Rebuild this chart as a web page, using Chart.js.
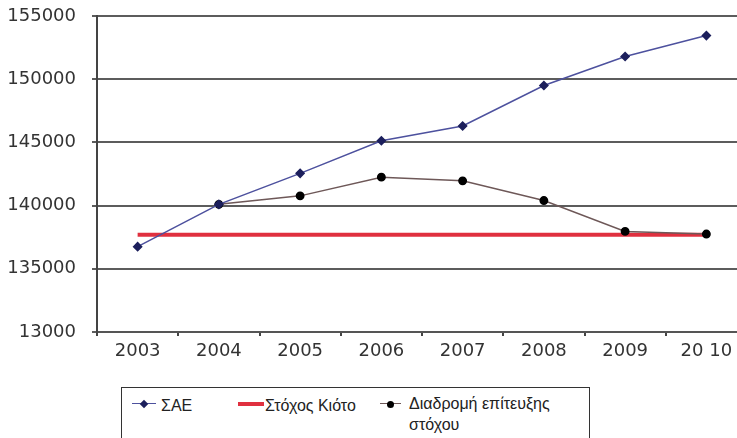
<!DOCTYPE html>
<html>
<head>
<meta charset="utf-8">
<script src="https://cdn.jsdelivr.net/npm/chart.js@4/dist/chart.umd.min.js"></script>
<style>
  html, body { margin: 0; padding: 0; background: #fff; width: 737px; height: 438px; overflow: hidden; }
  #wrap { position: absolute; left: 0; top: 0; width: 760px; height: 370px; }
  #legend { position: absolute; left: 121px; top: 387px; width: 469px; height: 70px; border: 1px solid #333; box-sizing: border-box;
    font-family: "Liberation Sans Narrow", "Liberation Sans", Arial, sans-serif; font-size: 16px; color: #222; }
  .mk { position: absolute; top: 16px; height: 0; }
  .txt { position: absolute; top: 7px; line-height: 21px; white-space: nowrap; }
</style>
</head>
<body>
<div id="wrap"><canvas id="c" width="760" height="370"></canvas></div>
<div id="legend"></div>
<script>
const categories = ["2003", "2004", "2005", "2006", "2007", "2008", "2009", "20 10"];
const saeValues = [136750, 140100, 142550, 145130, 146300, 149500, 151800, 153450];
const kyotoValues = [137700, 137700, 137700, 137700, 137700, 137700, 137700, 137700];
const pathValues = [null, 140100, 140770, 142250, 141960, 140400, 137960, 137750];
const yTickValues = [130000, 135000, 140000, 145000, 150000, 155000];
const yTickLabels = ["13000", "135000", "140000", "145000", "150000", "155000"];
const seriesNames = ["ΣΑΕ", "Στόχος Κιότο", "Διαδρομή επίτευξης στόχου"];

const chart = new Chart(document.getElementById('c'), {
  type: 'line',
  data: {
    labels: categories,
    datasets: [
      { label: seriesNames[0], data: saeValues, borderColor: '#4d519e', borderWidth: 1.5,
        pointStyle: 'rectRot', pointRadius: 4, pointBackgroundColor: '#1c1f5c', pointBorderColor: '#1c1f5c', order: 1 },
      { label: seriesNames[1], data: kyotoValues, borderColor: '#e0303f', borderWidth: 4,
        pointRadius: 0, order: 3 },
      { label: seriesNames[2], data: pathValues, borderColor: '#6e5858', borderWidth: 1.5,
        pointStyle: 'circle', pointRadius: 3.7, pointBackgroundColor: '#000', pointBorderColor: '#000', order: 2 }
    ]
  },
  options: {
    responsive: false,
    animation: false,
    events: [],
    layout: { padding: { top: 16, right: 13, left: 0, bottom: 0 } },
    plugins: { legend: { display: false }, tooltip: { enabled: false } },
    scales: {
      x: {
        type: 'category',
        offset: true,
        grid: { offset: true, drawOnChartArea: false, drawTicks: true, tickLength: 4, color: '#444', lineWidth: 2 },
        border: { display: true, color: '#555', width: 2 },
        ticks: { color: '#333', font: { family: 'DejaVu Sans', size: 18 }, padding: 5, maxRotation: 0, autoSkip: false },
        afterFit: (s) => { s.height = 38; s.paddingLeft = 0; s.paddingRight = 0; }
      },
      y: {
        min: 130000, max: 155000,
        afterBuildTicks: (s) => { s.ticks = yTickValues.map(v => ({ value: v })); },
        grid: { color: '#5c5c5c', lineWidth: 2, tickLength: 5 },
        border: { display: true, color: '#444', width: 2 },
        ticks: { color: '#333', font: { family: 'DejaVu Sans', size: 18 }, padding: 16,
          callback: (v) => { const i = yTickValues.indexOf(v); return i >= 0 ? yTickLabels[i] : ''; } },
        afterFit: (s) => { s.width = 97; s.paddingTop = 0; s.paddingBottom = 0; }
      }
    }
  }
});

// HTML legend built from the chart's datasets
const lg = document.getElementById('legend');
const layout = [
  { mkLeft: 10, mkWidth: 24, textLeft: 39, kind: 'diamond' },
  { mkLeft: 116, mkWidth: 26, textLeft: 143, kind: 'line' },
  { mkLeft: 258, mkWidth: 21, textLeft: 287, kind: 'circle', wrap: 'Διαδρομή επίτευξης<br>στόχου' }
];
chart.data.datasets.forEach((ds, i) => {
  const L = layout[i];
  const mk = document.createElement('div');
  mk.className = 'mk';
  mk.style.left = L.mkLeft + 'px';
  mk.style.width = L.mkWidth + 'px';
  mk.style.borderTop = (L.kind === 'line' ? 4 : 1.5) + 'px solid ' + ds.borderColor;
  mk.style.marginTop = (L.kind === 'line' ? -2 : -0.75) + 'px';
  lg.appendChild(mk);
  if (L.kind !== 'line') {
    const p = document.createElement('div');
    p.style.position = 'absolute';
    const sz = L.kind === 'diamond' ? 6 : 7;
    p.style.width = sz + 'px'; p.style.height = sz + 'px';
    p.style.left = (L.mkLeft + L.mkWidth / 2 - sz / 2) + 'px';
    p.style.top = (16 - sz / 2) + 'px';
    p.style.background = ds.pointBackgroundColor;
    if (L.kind === 'diamond') p.style.transform = 'rotate(45deg)';
    else p.style.borderRadius = '50%';
    lg.appendChild(p);
  }
  const t = document.createElement('div');
  t.className = 'txt';
  t.style.left = L.textLeft + 'px';
  if (L.wrap) { t.innerHTML = L.wrap; t.style.top = '5px'; } else { t.textContent = ds.label; }
  lg.appendChild(t);
});
</script>
</body>
</html>
